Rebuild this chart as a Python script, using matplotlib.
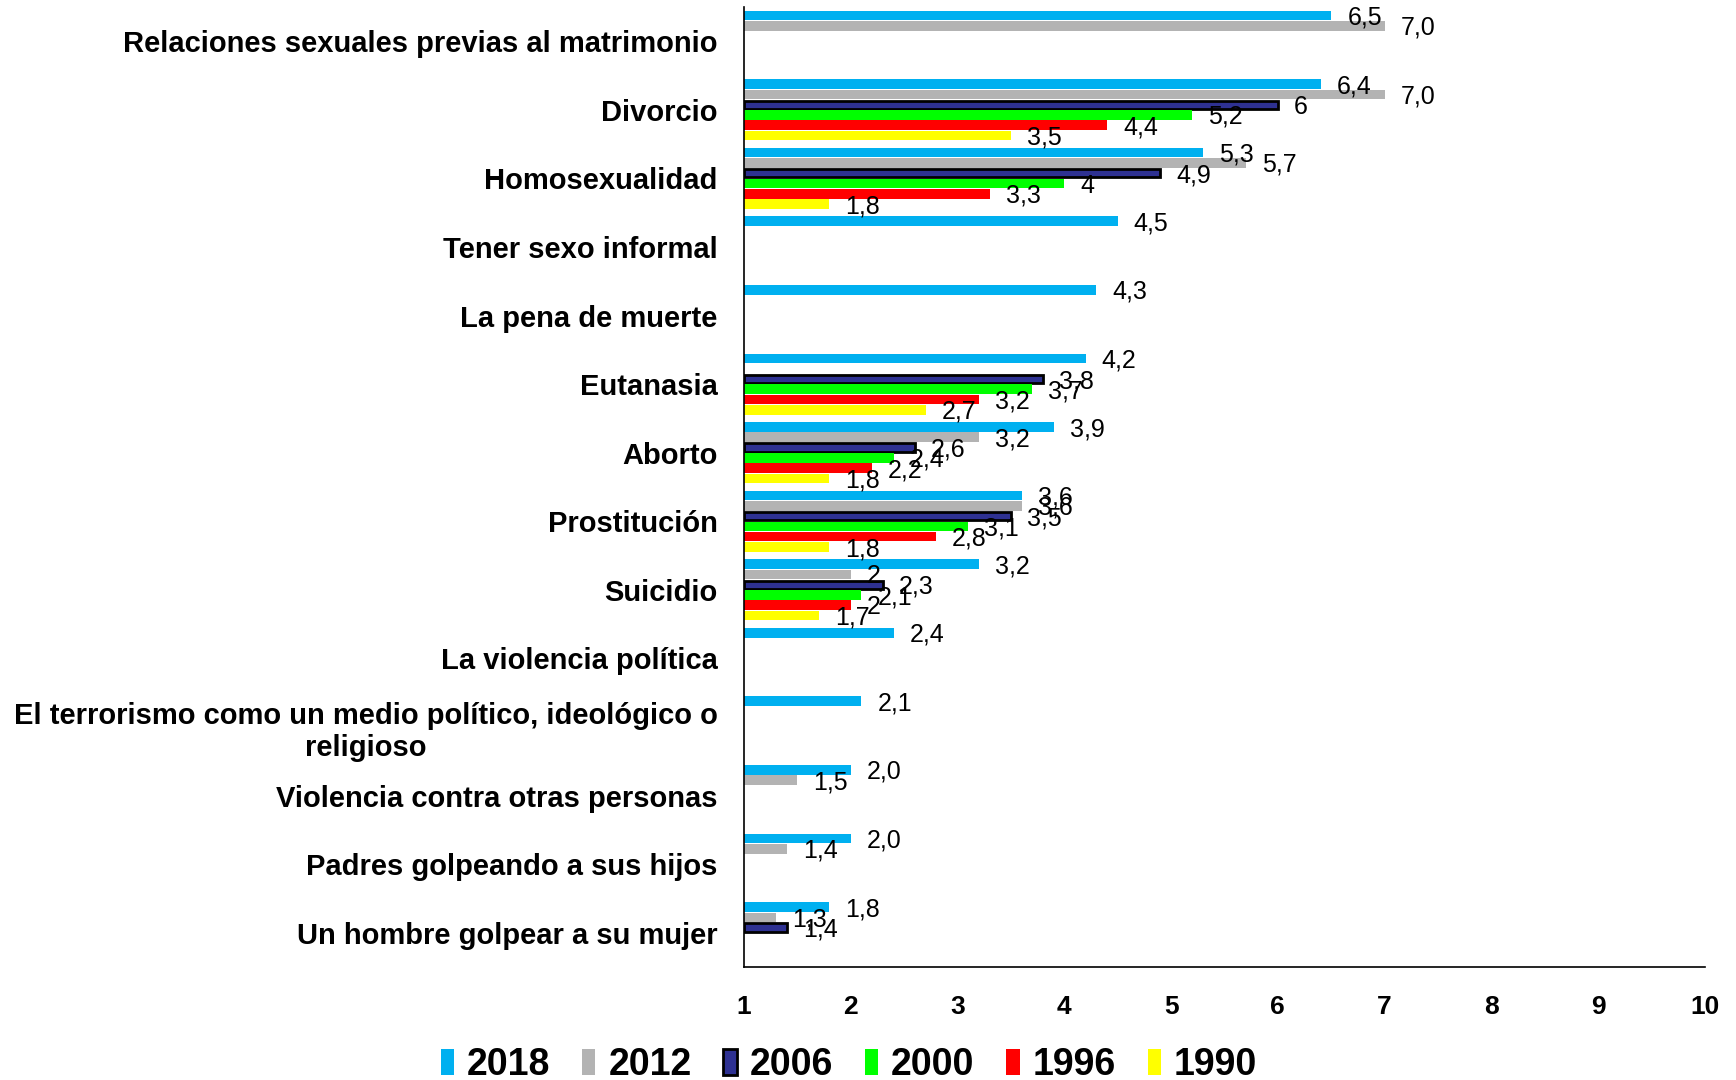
import matplotlib.pyplot as plt
from matplotlib.patches import Patch
import numpy as np

plt.rcParams['font.family'] = ['Liberation Sans', 'DejaVu Sans']

categorias = [
    'Relaciones sexuales previas al matrimonio',
    'Divorcio',
    'Homosexualidad',
    'Tener sexo informal',
    'La pena de muerte',
    'Eutanasia',
    'Aborto',
    'Prostitución',
    'Suicidio',
    'La violencia política',
    'El terrorismo como un medio político, ideológico o\nreligioso',
    'Violencia contra otras personas',
    'Padres golpeando a sus hijos',
    'Un hombre golpear a su mujer',
]

# valores tal como aparecen en las etiquetas (None = sin dato)
v2018 = ['6,5', '6,4', '5,3', '4,5', '4,3', '4,2', '3,9', '3,6', '3,2', '2,4', '2,1', '2,0', '2,0', '1,8']
v2012 = ['7,0', '7,0', '5,7', None, None, None, '3,2', '3,6', '2', None, None, '1,5', '1,4', '1,3']
v2006 = [None, '6', '4,9', None, None, '3,8', '2,6', '3,5', '2,3', None, None, None, None, '1,4']
v2000 = [None, '5,2', '4', None, None, '3,7', '2,4', '3,1', '2,1', None, None, None, None, None]
v1996 = [None, '4,4', '3,3', None, None, '3,2', '2,2', '2,8', '2', None, None, None, None, None]
v1990 = [None, '3,5', '1,8', None, None, '2,7', '1,8', '1,8', '1,7', None, None, None, None, None]

anios = ['2018', '2012', '2006', '2000', '1996', '1990']
series = [v2018, v2012, v2006, v2000, v1996, v1990]
colores = ['#00B0F0', '#B3B3B3', '#2E3192', '#00FF00', '#FF0000', '#FFFF00']

fig = plt.figure(figsize=(17.36, 10.8), dpi=100)
ax = fig.add_axes([0.4286, 0.1046, 0.5535, 0.889])

slot = 0.15
alto = 0.14
base = 1.0
y = np.arange(len(categorias))

for j, (anio, serie, color) in enumerate(zip(anios, series, colores)):
    pos = y + (j - 2.5) * slot
    for i, s in enumerate(serie):
        if s is None:
            continue
        v = float(s.replace(',', '.'))
        if anio == '2006':
            ax.barh(pos[i], v - base, left=base, height=alto - 0.02, color=color,
                    edgecolor='black', linewidth=2)
        else:
            ax.barh(pos[i], v - base, left=base, height=alto, color=color)
        ax.text(v + 0.15, pos[i] + 0.03, s, ha='left', va='center', fontsize=18)

ax.set_xlim(1, 10)
ax.set_ylim(len(categorias) - 0.5, -0.5)
ax.set_xticks(range(1, 11))
ax.set_yticks(y)
ax.set_yticklabels(categorias, fontsize=21, fontweight='bold')
for lab in ax.get_yticklabels():
    lab.set_multialignment('center')
ax.tick_params(axis='x', length=0, pad=20, labelsize=19)
ax.tick_params(axis='y', length=0, pad=19)
for lab in ax.get_xticklabels():
    lab.set_fontweight('bold')

ax.spines['top'].set_visible(False)
ax.spines['right'].set_visible(False)
ax.spines['left'].set_linewidth(1.2)
ax.spines['bottom'].set_linewidth(1.2)

manijas = []
for anio, color in zip(anios, colores):
    if anio == '2006':
        manijas.append(Patch(facecolor=color, edgecolor='black', linewidth=2, label=anio))
    else:
        manijas.append(Patch(facecolor=color, label=anio, linewidth=0))
fig.legend(handles=manijas, loc='center', bbox_to_anchor=(0.489, 0.014), ncol=6,
           frameon=False, prop={'size': 27, 'weight': 'bold'},
           handlelength=0.35, handleheight=0.7, handletextpad=0.35, columnspacing=0.85)

fig.savefig('out.png', dpi=100)
